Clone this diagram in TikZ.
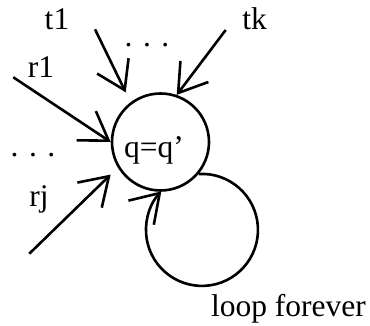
\documentclass[tikz,border=0pt]{standalone}
\usepackage{fontspec}
\setmainfont{Liberation Serif}
\usetikzlibrary{arrows.meta,calc,positioning}
\tikzset{
  lbl/.style={anchor=base,inner sep=0pt,font=\fontsize{31.5pt}{38pt}\selectfont},
  state/.style={draw,circle,minimum size=97pt,inner sep=0pt}
}

\begin{document}
\begin{tikzpicture}[x=1pt,y=1pt,line width=2.6pt,>={Straight Barb[length=27pt,width=35pt]}]
  \useasboundingbox (0,0) rectangle (370,326);
  \node[state] (q) at (160.5,184) {};
  \node[lbl] (qtext) at (154,168.5) {q=q'};
  % incoming transitions
  \node[lbl] (t1) at (57,296) {t1};
  \node[lbl] (tk) at (254.5,296) {tk};
  \node[lbl] (r1) at (41,248) {r1};
  \node[lbl] (rj) at (39,119.7) {rj};
  \node[lbl] (topdots) at (147,279) {. . .};
  \node[lbl] (leftdots) at (33,169) {. . .};
  \coordinate (t1a) at (95,296.7);
  \coordinate (tka) at (225.7,296);
  \coordinate (r1a) at (13.3,248.7);
  \coordinate (rja) at (29.3,72.3);
  \draw[->,shorten >=11pt] (t1a) -- (q.127);
  \draw[->] (tka) -- (q.71);
  \draw[->] (r1a) -- (q.180);
  \draw[->,shorten >=10pt] (rja) -- (q.211);
  % self loop
  \draw[->] (q.320) arc[start angle=93.4,end angle=-223.5,radius=56];
  \node[lbl] (loop) at (288.5,9) {loop forever};
\end{tikzpicture}
\end{document}
